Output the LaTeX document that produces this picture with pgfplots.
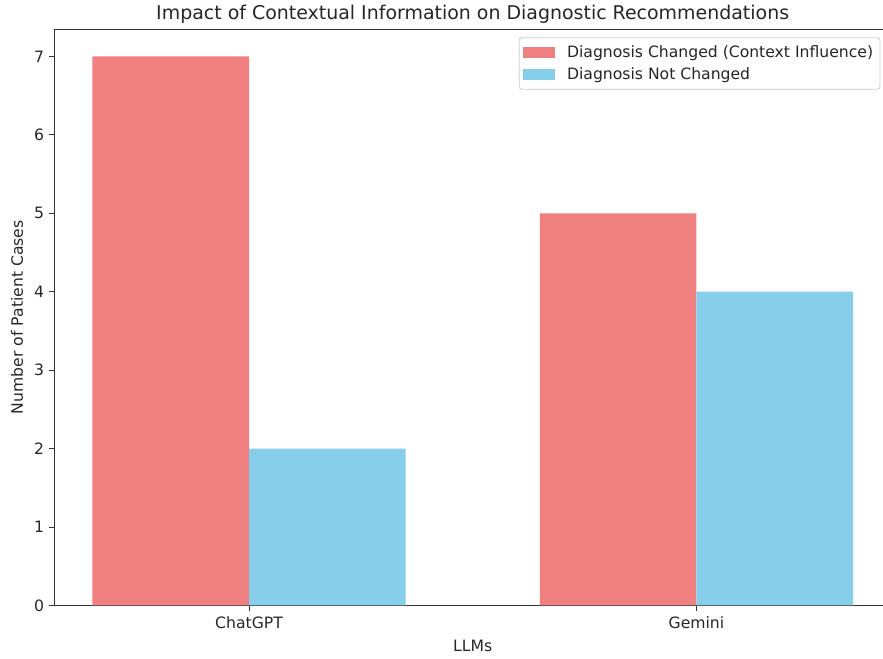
\documentclass[border=0pt]{standalone}
\usepackage{fontspec}
\setmainfont{DejaVu Sans}
\usepackage{pgfplots}
\pgfplotsset{compat=1.18}
\usetikzlibrary{calc}
\definecolor{lcoral}{RGB}{240,128,128}
\definecolor{skyb}{RGB}{135,206,235}
\definecolor{txt}{RGB}{38,38,38}
\begin{document}
\begin{tikzpicture}
\begin{axis}[
  name=ax,
  scale only axis,
  width=596.5bp, height=415.2bp,
  xmin=-0.435, xmax=1.416,
  ymin=0, ymax=7.35,
  axis x line*=box, axis y line*=left,
  axis line style={line width=0.65bp, black!80},
  ybar, bar width=0.35,
  xtick={0,1}, xticklabels={ChatGPT,Gemini},
  ytick={0,1,2,3,4,5,6,7},
  tick align=outside,
  major tick length=4bp,
  tick style={line width=0.65bp, black!80},
  xtick pos=bottom, ytick pos=left,
  /pgf/number format/assume math mode=true,
  tick label style={font=\fontsize{11.3}{13.5}\selectfont, text=txt},
  xticklabel style={yshift=-0.5bp},
  label style={font=\fontsize{11.3}{13.5}\selectfont, text=txt},
  xlabel={LLMs},
  ylabel={Number of Patient Cases},
  xlabel style={at={(axis description cs:0.505,0)}, anchor=base, yshift=-33.5bp},
  ylabel style={at={(axis description cs:0,0.5)}, anchor=base, yshift=22.7bp},
  title={Impact of Contextual Information on Diagnostic Recommendations},
  title style={at={(axis description cs:0.505,1)}, anchor=base, yshift=0.6bp,
    font=\fontsize{13.7}{16}\selectfont, text=txt, inner sep=0pt},
  legend style={at={(rel axis cs:1,1)}, anchor=north east, xshift=-1.5bp, yshift=-6bp,
    draw={rgb,255:red,204;green,204;blue,204}, rounded corners=2bp, line width=0.6bp,
    font=\fontsize{11.3}{13.5}\selectfont, text=txt, inner xsep=3bp, inner ysep=3.5bp,
    cells={anchor=west}, row sep=2bp},
  legend image code/.code={\fill[#1, sharp corners] (0bp,-4bp) rectangle (23bp,4bp); \path (29.5bp,0bp);},
]
\addplot[fill=lcoral, draw=none, bar shift=-0.175] coordinates {(0,7) (1,5)};
\addplot[fill=skyb, draw=none, bar shift=0.175] coordinates {(0,2) (1,4)};
\legend{Diagnosis Changed (Context Influence), Diagnosis Not Changed}
\end{axis}
\path[use as bounding box] ($(ax.south west)+(-39.2bp,-38.4bp)$) rectangle ($(ax.north east)+(0bp,20.9bp)$);
\end{tikzpicture}
\end{document}
